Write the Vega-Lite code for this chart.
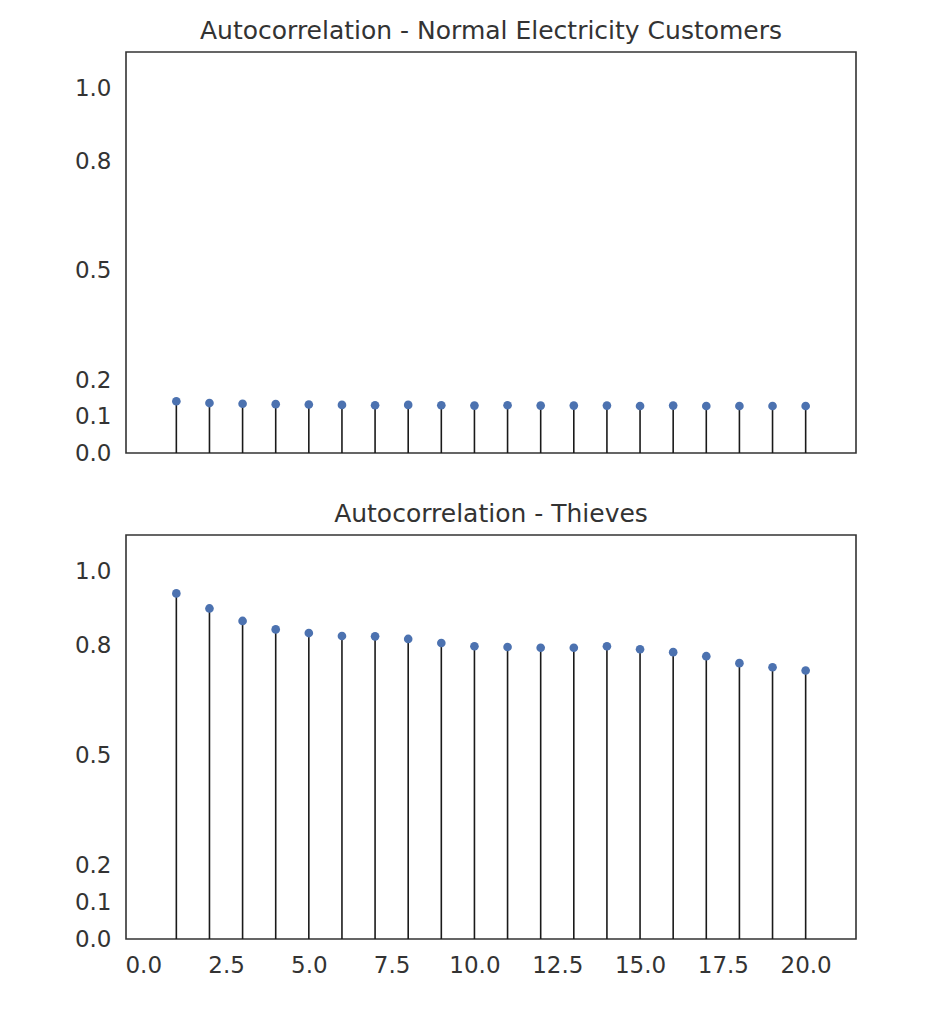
{
  "$schema": "https://vega.github.io/schema/vega-lite/v6.json",
  "padding": {"left": 73, "top": 18, "right": 10, "bottom": 10},
  "background": "white",
  "datasets": {
    "normal": [
      {"lag": 1, "acf": 0.142}, {"lag": 2, "acf": 0.137}, {"lag": 3, "acf": 0.135}, {"lag": 4, "acf": 0.134},
      {"lag": 5, "acf": 0.133}, {"lag": 6, "acf": 0.132}, {"lag": 7, "acf": 0.131}, {"lag": 8, "acf": 0.132},
      {"lag": 9, "acf": 0.131}, {"lag": 10, "acf": 0.130}, {"lag": 11, "acf": 0.131}, {"lag": 12, "acf": 0.130},
      {"lag": 13, "acf": 0.130}, {"lag": 14, "acf": 0.130}, {"lag": 15, "acf": 0.129}, {"lag": 16, "acf": 0.130},
      {"lag": 17, "acf": 0.129}, {"lag": 18, "acf": 0.129}, {"lag": 19, "acf": 0.129}, {"lag": 20, "acf": 0.129}
    ],
    "thieves": [
      {"lag": 1, "acf": 0.941}, {"lag": 2, "acf": 0.900}, {"lag": 3, "acf": 0.866}, {"lag": 4, "acf": 0.843},
      {"lag": 5, "acf": 0.833}, {"lag": 6, "acf": 0.825}, {"lag": 7, "acf": 0.824}, {"lag": 8, "acf": 0.817},
      {"lag": 9, "acf": 0.806}, {"lag": 10, "acf": 0.797}, {"lag": 11, "acf": 0.795}, {"lag": 12, "acf": 0.793},
      {"lag": 13, "acf": 0.793}, {"lag": 14, "acf": 0.797}, {"lag": 15, "acf": 0.789}, {"lag": 16, "acf": 0.781},
      {"lag": 17, "acf": 0.770}, {"lag": 18, "acf": 0.751}, {"lag": 19, "acf": 0.740}, {"lag": 20, "acf": 0.731}
    ]
  },
  "spacing": 35,
  "vconcat": [
    {
      "title": {"text": "Autocorrelation - Normal Electricity Customers", "offset": 8},
      "width": 730,
      "height": 401,
      "data": {"name": "normal"},
      "encoding": {
        "x": {"field": "lag", "type": "quantitative", "scale": {"domain": [-0.52, 21.52], "nice": false, "zero": false},
              "axis": {"labels": false, "title": null, "values": [0, 2.5, 5, 7.5, 10, 12.5, 15, 17.5, 20]}},
        "y": {"field": "acf", "type": "quantitative", "scale": {"domain": [0, 1.1], "nice": false},
              "axis": {"title": null, "values": [0, 0.1, 0.2, 0.5, 0.8, 1.0], "format": ".1f"}}
      },
      "layer": [
        {"mark": {"type": "rule", "color": "#1a1a1a", "strokeWidth": 1.6}, "encoding": {"y2": {"datum": 0}}},
        {"mark": {"type": "circle", "color": "#4c72b0", "opacity": 1, "size": 75}}
      ]
    },
    {
      "title": {"text": "Autocorrelation - Thieves", "offset": 8},
      "width": 730,
      "height": 404,
      "data": {"name": "thieves"},
      "encoding": {
        "x": {"field": "lag", "type": "quantitative", "scale": {"domain": [-0.52, 21.52], "nice": false, "zero": false},
              "axis": {"title": null, "values": [0, 2.5, 5, 7.5, 10, 12.5, 15, 17.5, 20], "format": ".1f", "labelPadding": 15}},
        "y": {"field": "acf", "type": "quantitative", "scale": {"domain": [0, 1.1], "nice": false},
              "axis": {"title": null, "values": [0, 0.1, 0.2, 0.5, 0.8, 1.0], "format": ".1f"}}
      },
      "layer": [
        {"mark": {"type": "rule", "color": "#1a1a1a", "strokeWidth": 1.6}, "encoding": {"y2": {"datum": 0}}},
        {"mark": {"type": "circle", "color": "#4c72b0", "opacity": 1, "size": 75}}
      ]
    }
  ],
  "config": {
    "font": "DejaVu Sans",
    "view": {"stroke": "#333", "strokeWidth": 1.6},
    "axis": {"grid": false, "ticks": false, "domain": false, "labelFont": "DejaVu Sans", "labelFontSize": 23, "labelColor": "#333", "labelPadding": 15},
    "title": {"font": "DejaVu Sans", "fontSize": 25, "fontWeight": "normal", "color": "#333"}
  }
}
